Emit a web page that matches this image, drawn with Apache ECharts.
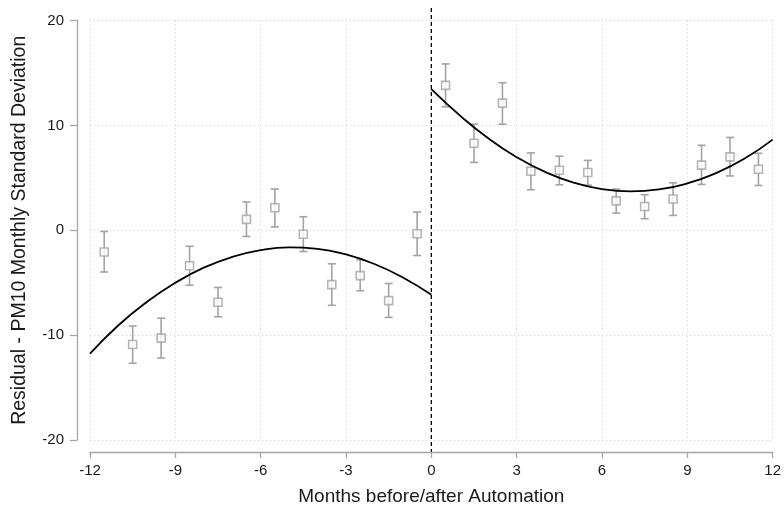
<!DOCTYPE html>
<html>
<head>
<meta charset="utf-8">
<script src="https://cdn.jsdelivr.net/npm/echarts@6/dist/echarts.min.js"></script>
<style>
html,body{margin:0;padding:0;background:#fff;}
#chart{width:784px;height:511px;}
</style>
</head>
<body>
<div id="chart"></div>
<script>
// Binned residual means (months relative to automation)
const months = [-11.5,-10.5,-9.5,-8.5,-7.5,-6.5,-5.5,-4.5,-3.5,-2.5,-1.5,-0.5,
                0.5,1.5,2.5,3.5,4.5,5.5,6.5,7.5,8.5,9.5,10.5,11.5];
const residual = [-2.07,-10.89,-10.29,-3.39,-6.87,1.04,2.14,-0.38,-5.18,-4.33,-6.71,-0.34,
                  13.81,8.29,12.12,5.62,5.72,5.50,2.80,2.26,2.98,6.21,7.00,5.81];
const ciHigh = [-0.12,-9.13,-8.38,-1.53,-5.46,2.70,3.93,1.29,-3.20,-2.82,-5.08,1.73,
                15.86,10.11,14.07,7.38,7.06,6.66,3.93,3.39,4.52,8.10,8.85,7.34];
const ciLow = [-3.98,-12.68,-12.18,-5.24,-8.25,-0.59,0.32,-2.03,-7.16,-5.77,-8.31,-2.41,
               11.77,6.47,10.11,3.86,4.33,4.30,1.64,1.10,1.41,4.37,5.18,4.27];

// Fitted curves
const fitPreX = [-12,-11,-10,-9,-8,-7,-6,-5,-4,-3,-2,-1,0];
const fitPreY = [-11.77,-9.06,-6.84,-5.01,-3.57,-2.54,-1.89,-1.63,-1.77,-2.31,-3.22,-4.50,-6.15];
const fitPostX = [0,1,2,3,4,5,6,7,8,9,10,11,12];
const fitPostY = [13.45,10.95,8.77,6.97,5.56,4.55,3.93,3.71,3.89,4.47,5.44,6.81,8.64];

const xTicks = [-12,-9,-6,-3,0,3,6,9,12];
const yTicks = [-20,-10,0,10,20];
const cutoff = 0;

const chart = echarts.init(document.getElementById('chart'));
const font = '"Liberation Sans", Arial, sans-serif';
const gridColor = '#cfcfcf';
const axisColor = '#a6a6a6';
const markColor = '#a3a3a3';
const textColor = '#1a1a1a';

const errData = months.map((m, i) => [m, ciLow[i], ciHigh[i]]);
const ptData = months.map((m, i) => [m, residual[i]]);
const preData = fitPreX.map((x, i) => [x, fitPreY[i]]);
const postData = fitPostX.map((x, i) => [x, fitPostY[i]]);

chart.setOption({
  animation: false,
  backgroundColor: '#fff',
  grid: {left: 90, right: 7, top: 20.5, bottom: 66, containLabel: false},
  xAxis: {
    type: 'value',
    min: xTicks[0], max: xTicks[xTicks.length - 1], interval: 3,
    offset: 12,
    name: 'Months before/after Automation',
    nameLocation: 'middle', nameGap: 35,
    nameTextStyle: {fontFamily: font, fontSize: 19, color: textColor},
    axisLine: {show: true, onZero: false, lineStyle: {color: axisColor, width: 1.3}},
    axisTick: {show: true, length: 6, lineStyle: {color: axisColor, width: 1.3}},
    axisLabel: {fontFamily: font, fontSize: 15, color: textColor, margin: 11},
    splitLine: {show: true, lineStyle: {color: gridColor, type: [1, 3], width: 1}}
  },
  yAxis: {
    type: 'value',
    min: yTicks[0], max: yTicks[yTicks.length - 1], interval: 10,
    offset: 13,
    name: 'Residual - PM10 Monthly Standard Deviation',
    nameLocation: 'middle', nameGap: 47,
    nameTextStyle: {fontFamily: font, fontSize: 19.5, color: textColor},
    axisLine: {show: true, onZero: false, lineStyle: {color: axisColor, width: 1.3}},
    axisTick: {show: true, length: 7, lineStyle: {color: axisColor, width: 1.3}},
    axisLabel: {fontFamily: font, fontSize: 15, color: textColor, margin: 13},
    splitLine: {show: true, lineStyle: {color: gridColor, type: [1, 3], width: 1}}
  },
  series: [
    {
      type: 'custom',
      name: 'ci',
      data: errData,
      z: 2,
      renderItem: function (params, api) {
        const x = api.value(0);
        const lo = api.coord([x, api.value(1)]);
        const hi = api.coord([x, api.value(2)]);
        const hw = 4;
        const st = {stroke: markColor, lineWidth: 1.6};
        return {
          type: 'group',
          children: [
            {type: 'line', shape: {x1: lo[0], y1: lo[1], x2: hi[0], y2: hi[1]}, style: st},
            {type: 'line', shape: {x1: lo[0] - hw, y1: lo[1], x2: lo[0] + hw, y2: lo[1]}, style: st},
            {type: 'line', shape: {x1: hi[0] - hw, y1: hi[1], x2: hi[0] + hw, y2: hi[1]}, style: st}
          ]
        };
      }
    },
    {
      type: 'scatter',
      data: ptData,
      symbol: 'rect',
      symbolSize: 8,
      z: 3,
      itemStyle: {color: '#fff', borderColor: markColor, borderWidth: 1.6}
    },
    {
      type: 'line',
      data: preData,
      smooth: true,
      showSymbol: false,
      symbol: 'none',
      z: 4,
      lineStyle: {color: '#000', width: 1.8}
    },
    {
      type: 'line',
      data: postData,
      smooth: true,
      showSymbol: false,
      symbol: 'none',
      z: 4,
      lineStyle: {color: '#000', width: 1.8}
    },
    {
      type: 'custom',
      data: [[cutoff]],
      clip: false,
      z: 5,
      renderItem: function (params, api) {
        const top = api.coord([api.value(0), 21.18]);
        const bot = api.coord([api.value(0), -21.13]);
        return {
          type: 'line',
          shape: {x1: top[0], y1: top[1], x2: bot[0], y2: bot[1]},
          style: {stroke: '#000', lineWidth: 1.3, lineDash: [4, 3]}
        };
      }
    }
  ]
});
</script>
</body>
</html>
